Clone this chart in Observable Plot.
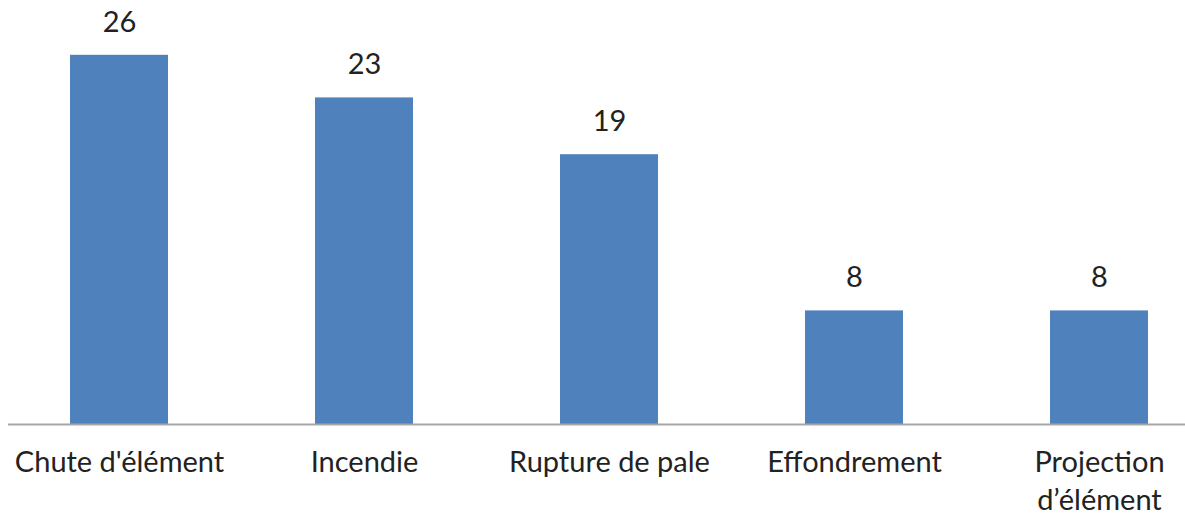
<!DOCTYPE html>
<html>
<head>
<meta charset="utf-8">
<script src="https://cdn.jsdelivr.net/npm/d3@7"></script>
<script src="https://cdn.jsdelivr.net/npm/@observablehq/plot@0.6"></script>
<style>
  html, body { margin: 0; padding: 0; background: #fff; }
  svg { overflow: visible; }
</style>
</head>
<body>
<div id="chart"></div>
<script>
const categories = ["Chute d'élément", "Incendie", "Rupture de pale", "Effondrement", "Projection\nd’élément"];
const values = [26, 23, 19, 8, 8];

const data = categories.map((c, i) => ({category: c, value: values[i]}));

const chart = Plot.plot({
  width: 1185,
  height: 515,
  marginLeft: 8,
  marginRight: 0,
  marginTop: 0,
  marginBottom: 91,
  style: {fontFamily: "Lato, 'Open Sans', sans-serif", color: "#222", background: "#fff"},
  x: {domain: categories, range: [8, 1210], paddingInner: 0.6, paddingOuter: 0.248, label: null},
  y: {domain: [0, 29.86], axis: null},
  marks: [
    Plot.barY(data, {x: "category", y: "value", fill: "#4F81BD"}),
    Plot.ruleY([0], {stroke: "#a6a6a6", strokeWidth: 2}),
    Plot.text(data, {x: "category", y: "value", text: d => String(d.value), dy: -33, fontSize: 29, fill: "#222"}),
    Plot.axisX({tickSize: 0, tickPadding: 21, fontSize: 29, lineHeight: 1.3, fill: "#222", label: null})
  ]
});
document.getElementById("chart").appendChild(chart);
</script>
</body>
</html>
